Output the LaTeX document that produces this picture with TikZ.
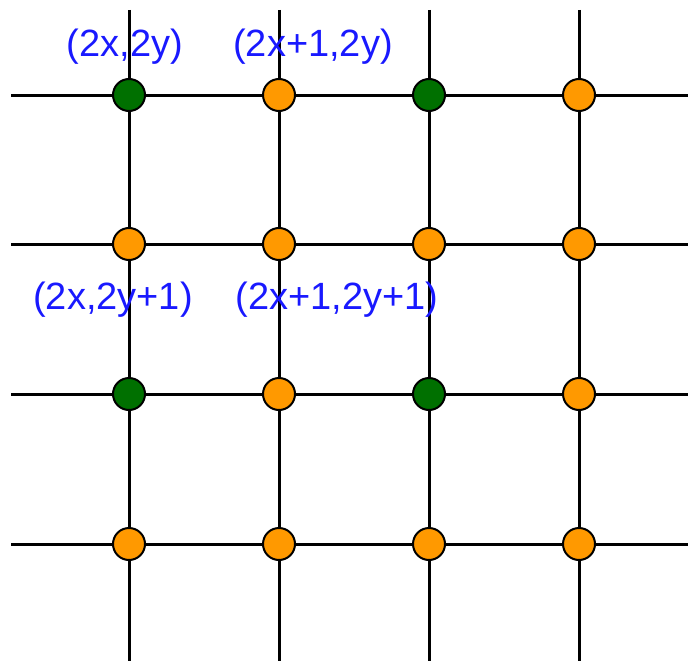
\documentclass[tikz,border=0pt]{standalone}
\usepackage{fontspec}
\setmainfont{Liberation Sans}
\definecolor{ptgreen}{RGB}{0,112,0}
\definecolor{ptorange}{RGB}{255,153,0}
\definecolor{lblblue}{RGB}{25,25,255}
\tikzset{
  gridline/.style={line width=3pt},
  pt/.style={circle,draw=black,line width=2pt,minimum size=32pt,inner sep=0pt},
  gpt/.style={pt,fill=ptgreen},
  opt/.style={pt,fill=ptorange},
  lbl/.style={text=lblblue,inner sep=0pt,font=\fontsize{38}{40}\selectfont},
}

\begin{document}
\begin{tikzpicture}[x=1pt,y=-1pt]
\useasboundingbox (0,0) rectangle (688,661);
% grid lines
\foreach \i/\x in {0/129,1/279,2/429,3/579}{
  \coordinate (t\i) at (\x,10); \coordinate (b\i) at (\x,661);
  \draw[gridline] (t\i)--(b\i);}
\foreach \j/\y in {0/95,1/244,2/394,3/544}{
  \coordinate (l\j) at (11,\y); \coordinate (r\j) at (688,\y);
  \draw[gridline] (l\j)--(r\j);}
% points, green at even/even
\foreach \i/\x in {0/129,1/279,2/429,3/579}{
  \foreach \j/\y in {0/95,1/244,2/394,3/544}{
    \pgfmathparse{(mod(\i,2)==0 && mod(\j,2)==0) ? "gpt" : "opt"}
    \node[\pgfmathresult] (p\i\j) at (\x,\y) {};}}
% labels
\node[lbl] (lab00) at (125,47) {(2x,2y)};
\node[lbl] (lab10) at (313,47) {(2x+1,2y)};
\node[lbl] (lab01) at (113,300) {(2x,2y+1)};
\node[lbl] (lab11) at (337,300) {(2x+1,2y+1)};
\end{tikzpicture}
\end{document}
